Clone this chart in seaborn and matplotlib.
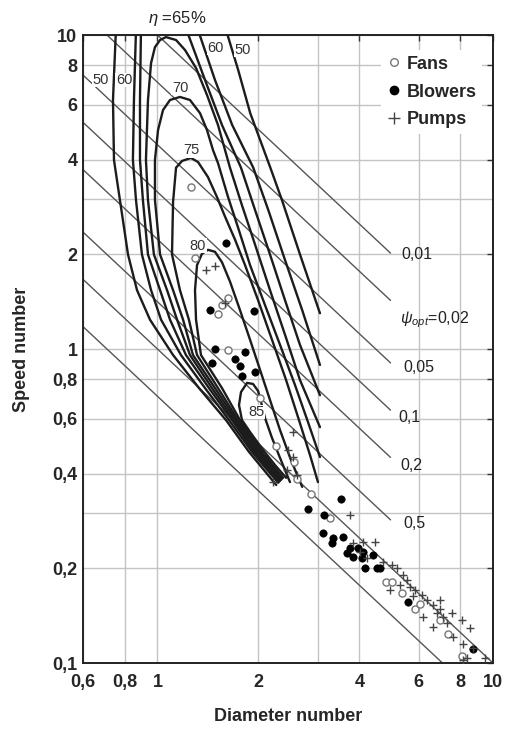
import numpy as np
import pandas as pd
import matplotlib
matplotlib.use("Agg")
import matplotlib.pyplot as plt
import seaborn as sns
from matplotlib.lines import Line2D
from matplotlib.ticker import FixedLocator, NullFormatter

# =========================
# Data (diameter number, speed number)
# =========================
eta50_left = [(2.26, 0.369), (1.875, 0.470), (1.60, 0.594), (1.33, 0.751), (1.113, 0.957), (0.95, 1.24),
              (0.869, 1.54), (0.817, 2.0), (0.773, 2.98), (0.742, 4.0), (0.737, 6.21), (0.752, 10.4)]
eta50_right = [(1.60, 10.4), (1.74, 7.74), (1.89, 5.64), (2.17, 3.78), (2.35, 2.98), (2.66, 2.0), (3.05, 1.30)]

eta60_left = [(2.29, 0.375), (1.914, 0.470), (1.634, 0.594), (1.386, 0.751), (1.175, 0.957), (1.025, 1.24),
              (0.957, 1.54), (0.899, 2.0), (0.863, 2.98), (0.845, 4.0), (0.851, 6.21), (0.863, 10.4)]
eta60_right = [(1.32, 10.4), (1.484, 7.19), (1.67, 5.17), (1.93, 3.78), (2.14, 2.77), (2.40, 1.92),
               (2.70, 1.33), (3.05, 0.89)]

eta62_left = [(2.30, 0.377), (1.941, 0.470), (1.668, 0.594), (1.424, 0.751), (1.216, 0.957), (1.090, 1.24),
              (1.018, 1.54), (0.937, 2.0), (0.905, 2.98), (0.887, 4.0), (0.887, 6.21), (0.893, 10.4)]
eta62_right = [(1.22, 10.4), (1.386, 7.19), (1.557, 5.17), (1.774, 3.78), (1.954, 2.77), (2.165, 2.0),
               (2.40, 1.43), (2.66, 1.03), (3.05, 0.713)]

eta65 = [(2.319, 0.380), (1.967, 0.470), (1.691, 0.594), (1.454, 0.751), (1.250, 0.957), (1.144, 1.24),
         (1.068, 1.54), (0.976, 2.0), (0.937, 2.98), (0.924, 4.0), (0.937, 6.21), (0.957, 8.14),
         (0.983, 9.15), (1.018, 9.64), (1.06, 9.85), (1.136, 9.64), (1.208, 8.96), (1.303, 7.85),
         (1.405, 6.44), (1.515, 5.17), (1.645, 3.78), (1.786, 2.87), (1.954, 2.15), (2.165, 1.54),
         (2.40, 1.11), (2.659, 0.797), (3.05, 0.564)]

eta70 = [(2.335, 0.383), (1.995, 0.470), (1.715, 0.594), (1.484, 0.751), (1.276, 0.957), (1.192, 1.24),
         (1.113, 1.54), (1.018, 2.0), (0.983, 2.98), (0.983, 4.0), (1.004, 4.98), (1.039, 5.77),
         (1.09, 6.21), (1.167, 6.35), (1.25, 6.21), (1.339, 5.64), (1.405, 4.98), (1.464, 4.30),
         (1.515, 3.91), (1.623, 3.05), (1.738, 2.44), (1.888, 1.85), (2.092, 1.38), (2.319, 1.031),
         (2.57, 0.768), (2.81, 0.585), (3.05, 0.453)]

eta75 = [(2.351, 0.386), (2.022, 0.470), (1.738, 0.594), (1.515, 0.751), (1.312, 0.957), (1.241, 1.24),
         (1.167, 1.54), (1.105, 2.0), (1.113, 2.94), (1.136, 3.78), (1.183, 3.97), (1.259, 4.06),
         (1.321, 3.94), (1.414, 3.53), (1.504, 3.05), (1.59, 2.64), (1.703, 2.23), (1.824, 1.85),
         (1.995, 1.43), (2.195, 1.07), (2.417, 0.797), (2.641, 0.594), (2.848, 0.46), (3.008, 0.377)]

eta80 = [(2.367, 0.389), (2.05, 0.470), (1.762, 0.594), (1.557, 0.751), (1.348, 0.957), (1.303, 1.24),
         (1.294, 1.54), (1.312, 1.85), (1.357, 2.01), (1.414, 2.07), (1.484, 2.04), (1.557, 1.89),
         (1.645, 1.64), (1.762, 1.33), (1.888, 1.07), (2.022, 0.858), (2.165, 0.688), (2.319, 0.552),
         (2.50, 0.443), (2.70, 0.364)]

eta85 = [(2.417, 0.389), (2.241, 0.427), (2.064, 0.477), (1.888, 0.544), (1.786, 0.594), (1.75, 0.663),
         (1.774, 0.729), (1.849, 0.78), (1.927, 0.774), (1.995, 0.735), (2.036, 0.678), (2.092, 0.603),
         (2.195, 0.521), (2.319, 0.45), (2.433, 0.397), (2.483, 0.377)]

# constant pressure-number lines and the diameter number where each one stops
psi_values = [0.01, 0.02, 0.05, 0.1, 0.2, 0.5, 1.0, 2.0]
psi_end_d = [4.95, 4.95, 4.95, 4.95, 4.95, 4.95, 10.0, 10.0]
psi_labels = ["0,01", r"$\psi_{opt}$=0,02", "0,05", "0,1", "0,2", "0,5"]
psi_label_pos = [(5.35, 2.0), (5.28, 1.24), (5.39, 0.871), (5.21, 0.607), (5.28, 0.427), (5.39, 0.279)]

fans_d = [1.26, 1.29, 1.62, 1.56, 1.52, 1.62, 2.02, 2.26, 2.55, 2.61, 2.87, 3.27, 4.80, 5.0, 5.35,
          5.85, 6.06, 6.95, 7.34, 8.08]
fans_s = [3.28, 1.95, 1.45, 1.38, 1.29, 0.993, 0.70, 0.49, 0.437, 0.386, 0.346, 0.29, 0.181, 0.181,
          0.167, 0.149, 0.154, 0.137, 0.124, 0.105]

blowers_d = [1.60, 1.43, 1.94, 1.48, 1.82, 1.70, 1.45, 1.76, 1.79, 1.95, 3.52, 2.81, 3.14, 3.11, 3.34,
             3.31, 3.57, 3.75, 3.67, 3.96, 4.10, 4.15, 4.39, 4.51, 4.60, 5.58, 4.07, 3.83, 8.71]
blowers_s = [2.18, 1.33, 1.32, 1.0, 0.98, 0.93, 0.90, 0.88, 0.82, 0.845, 0.332, 0.309, 0.296, 0.259,
             0.25, 0.241, 0.252, 0.232, 0.224, 0.232, 0.226, 0.20, 0.221, 0.20, 0.20, 0.157, 0.216,
             0.218, 0.111]

pumps_d = [1.40, 1.48, 1.59, 2.54, 2.45, 2.54, 2.43, 2.61, 2.21, 3.75, 3.83, 4.10, 4.45, 4.01, 4.21,
           4.70, 5.0, 5.17, 5.39, 5.54, 5.66, 5.85, 6.14, 6.35, 6.62, 6.95, 6.95, 6.81, 7.09, 7.29,
           7.54, 8.08, 8.53, 7.60, 8.14, 8.71, 9.46, 8.36, 8.14, 4.93, 5.28, 6.18, 6.62, 5.77]
pumps_s = [1.79, 1.84, 1.40, 0.544, 0.477, 0.453, 0.412, 0.397, 0.377, 0.296, 0.241, 0.242, 0.242,
           0.226, 0.216, 0.210, 0.205, 0.201, 0.191, 0.184, 0.175, 0.171, 0.165, 0.159, 0.153, 0.159,
           0.149, 0.144, 0.140, 0.134, 0.144, 0.137, 0.129, 0.121, 0.115, 0.112, 0.104, 0.104, 0.102,
           0.171, 0.177, 0.140, 0.130, 0.163]

contour_labels = ["50", "60", "60", "50", "70", "75", "80", "85"]
contour_label_pos = [(0.679, 7.19), (0.795, 7.19), (1.49, 9.09), (1.80, 8.96), (1.167, 6.78),
                     (1.26, 4.30), (1.32, 2.13), (1.97, 0.63)]

x_ticks = [0.6, 0.8, 1, 2, 4, 6, 8, 10]
x_ticklabels = ["0,6", "0,8", "1", "2", "4", "6", "8", "10"]
y_ticks = [0.1, 0.2, 0.4, 0.6, 0.8, 1, 2, 4, 6, 8, 10]
y_ticklabels = ["0,1", "0,2", "0,4", "0,6", "0,8", "1", "2", "4", "6", "8", "10"]

# =========================
# Build long tables for seaborn
# =========================
branches = {
    "eta50_left": eta50_left, "eta50_right": eta50_right,
    "eta60_left": eta60_left, "eta60_right": eta60_right,
    "eta62_left": eta62_left, "eta62_right": eta62_right,
    "eta65": eta65, "eta70": eta70, "eta75": eta75, "eta80": eta80, "eta85": eta85,
}
rows = []
for name, pts in branches.items():
    for i, (d, s) in enumerate(pts):
        rows.append({"d": d, "s": s, "branch": name, "order": i})
contours = pd.DataFrame(rows)

psi_rows = []
for psi, d_end in zip(psi_values, psi_end_d):
    for d in (0.6, d_end):
        psi_rows.append({"d": d, "s": psi ** -0.5 / d, "psi": psi})
psi_df = pd.DataFrame(psi_rows)

# =========================
# Plot
# =========================
sns.set_theme(style="white")
plt.rcParams["font.family"] = ["Liberation Sans", "DejaVu Sans"]
plt.rcParams["mathtext.fontset"] = "custom"
plt.rcParams["mathtext.it"] = "Liberation Sans:italic"
plt.rcParams["mathtext.rm"] = "Liberation Sans"

fig = plt.figure(figsize=(5.05, 7.31), dpi=100)
ax = fig.add_axes([0.1644, 0.0930, 0.8118, 0.8591])
ax.set_xscale("log")
ax.set_yscale("log")
ax.set_xlim(0.6, 10)
ax.set_ylim(0.1, 10)

# grid (major + the unlabeled 3 lines)
ax.xaxis.set_major_locator(FixedLocator(x_ticks))
ax.yaxis.set_major_locator(FixedLocator(y_ticks))
ax.xaxis.set_minor_locator(FixedLocator([3]))
ax.yaxis.set_minor_locator(FixedLocator([0.3, 3]))
ax.xaxis.set_minor_formatter(NullFormatter())
ax.yaxis.set_minor_formatter(NullFormatter())
ax.grid(True, which="both", color="#c4c4c4", lw=1.0, zorder=0)
ax.set_axisbelow(True)

sns.lineplot(data=psi_df, x="d", y="s", units="psi", estimator=None, sort=False,
             color="#555555", lw=1.0, ax=ax, legend=False, zorder=2)
sns.lineplot(data=contours, x="d", y="s", units="branch", estimator=None, sort=False,
             color="#1c1c1c", lw=1.7, ax=ax, legend=False, zorder=3)

sns.scatterplot(x=fans_d, y=fans_s, marker="o", facecolor="white", edgecolor="#777777",
                s=26, linewidth=1.0, ax=ax, zorder=4)
sns.scatterplot(x=blowers_d, y=blowers_s, marker="o", color="black", edgecolor="black",
                s=28, linewidth=0.5, ax=ax, zorder=4)
sns.scatterplot(x=pumps_d, y=pumps_s, marker="+", color="#444444", s=40, linewidth=1.0,
                ax=ax, zorder=4)

# labels on the psi lines
for lab, (d, s) in zip(psi_labels, psi_label_pos):
    ax.text(d, s, lab, fontsize=11.5, ha="left", va="center", color="#222222", zorder=5)

# efficiency labels
for lab, (d, s) in zip(contour_labels, contour_label_pos):
    ax.text(d, s, lab, fontsize=10.5, ha="center", va="center", color="#333333", zorder=5,
            bbox=dict(facecolor="white", edgecolor="none", pad=0.3))
ax.text(1.143, 11.3, r"$\eta$ =65%", fontsize=12, ha="center", va="center", color="#222222",
        clip_on=False)

# ticks and labels
ax.set_xticklabels(x_ticklabels, fontsize=13, fontweight="bold")
ax.set_yticklabels(y_ticklabels, fontsize=13, fontweight="bold")
ax.tick_params(which="both", direction="in", top=True, right=True, length=4, width=1.0,
               color="#333333", pad=4)
ax.tick_params(axis="x", pad=8)
ax.tick_params(which="minor", length=0)
for sp in ax.spines.values():
    sp.set_color("#222222")
    sp.set_linewidth(1.4)
ax.set_xlabel("Diameter number", fontsize=13, fontweight="bold", labelpad=12)
ax.set_ylabel("Speed number", fontsize=13, fontweight="bold", labelpad=16)

handles = [
    Line2D([], [], ls="none", marker="o", mfc="white", mec="#777777", ms=5.5),
    Line2D([], [], ls="none", marker="o", mfc="black", mec="black", ms=6),
    Line2D([], [], ls="none", marker="+", mec="#444444", ms=8),
]
leg = ax.legend(handles, ["Fans", "Blowers", "Pumps"], loc="upper right",
                bbox_to_anchor=(0.995, 0.99), frameon=True, facecolor="white", edgecolor="none",
                framealpha=1.0, handlelength=0.8, handletextpad=0.3, labelspacing=0.6,
                borderpad=0.3, prop={"size": 13, "weight": "bold"})
leg.set_zorder(6)

fig.savefig("out.png", dpi=100)
